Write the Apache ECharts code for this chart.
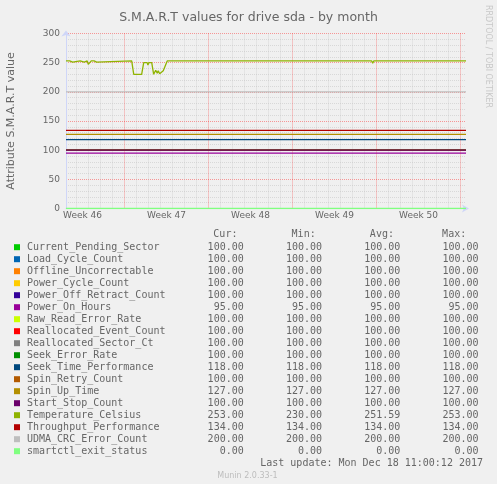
<!DOCTYPE html>
<html><head><meta charset="utf-8">
<script src="https://cdn.jsdelivr.net/npm/echarts@6/dist/echarts.min.js"></script>
<style>html,body{margin:0;padding:0;background:#f0f0f0;}#c{width:497px;height:484px;}</style>
</head><body><div id="c"></div>
<script>
const seriesNames = ['Current_Pending_Sector','Load_Cycle_Count','Offline_Uncorrectable','Power_Cycle_Count','Power_Off_Retract_Count','Power_On_Hours','Raw_Read_Error_Rate','Reallocated_Event_Count','Reallocated_Sector_Ct','Seek_Error_Rate','Seek_Time_Performance','Spin_Retry_Count','Spin_Up_Time','Start_Stop_Count','Temperature_Celsius','Throughput_Performance','UDMA_CRC_Error_Count','smartctl_exit_status'];
const curValues = [100,100,100,100,100,95,100,100,100,100,118,100,127,100,253,134,200,0];
const minValues = [100,100,100,100,100,95,100,100,100,100,118,100,127,100,230,134,200,0];
const avgValues = [100,100,100,100,100,95,100,100,100,100,118,100,127,100,251.59,134,200,0];
const maxValues = [100,100,100,100,100,95,100,100,100,100,118,100,127,100,253,134,200,0];
// time in days since Mon 13 Nov 2017 00:00
const flatDays = [2.125, 35.4583];
const tempDays = [2.125,2.43,2.52,2.68,2.77,3.31,3.39,3.64,3.72,3.89,3.98,4.1,4.23,4.47,4.56,4.68,4.77,7.6,7.77,8.43,8.6,8.89,8.95,9.03,9.27,9.43,9.6,9.73,9.81,9.93,10.06,10.23,10.56,25.14,25.2,25.27,27.6,27.68,27.77,30.77,30.83,30.89,35.4583];
const tempValues = [253,253,251,251,253,253,251,251,253,253,247,250,253,253,251,251,253,253,230,230,250,250,246,250,250,230,237,232,236,231,234,236,253,253,252,253,253,249,253,253,252,253,253];
const weekLabels = ['Week 46','Week 47','Week 48','Week 49','Week 50'];
const weekLabelDays = [3.5,10.5,17.5,24.5,31.5];
const weekStartDays = [7,14,21,28,35];
const lastUpdate = 'Last update: Mon Dec 18 11:00:12 2017';

const palette = ['#00CC00','#0066B3','#FF8000','#FFCC00','#330099','#990099','#CCFF00','#FF0000','#808080','#008F00','#00487D','#B35A00','#B38F00','#6B006B','#8FB300','#B30000','#BEBEBE','#80FF80'];
const X_MIN = 2.125, X_MAX = 35.4583;
const dayLines = [];
for (let d = Math.ceil(X_MIN); d <= Math.floor(X_MAX); d++) if (d % 7 !== 0) dayLines.push(d);

const fmt = v => v.toFixed(2);
const series = seriesNames.map((name, i) => {
  let data;
  if (name === 'Temperature_Celsius') data = tempDays.map((d, k) => [d, tempValues[k]]);
  else data = flatDays.map(d => [d, curValues[i]]);
  return {
    name, type: 'line', data, showSymbol: false, symbol: 'none',
    xAxisIndex: 0, yAxisIndex: 0,
    lineStyle: { color: palette[i], width: 1.3 },
    itemStyle: { color: palette[i] },
    animation: false, silent: true
  };
});

const mono = 'DejaVu Sans Mono';
const sans = 'DejaVu Sans';
const header = ' '.repeat(31) + 'Cur:' + ' '.repeat(9) + 'Min:' + ' '.repeat(9) + 'Avg:' + ' '.repeat(8) + 'Max:';

const chart = echarts.init(document.getElementById('c'), null, { renderer: 'canvas' });
chart.setOption({
  backgroundColor: '#f0f0f0',
  animation: false,
  title: {
    text: 'S.M.A.R.T values for drive sda - by month', left: 'center', top: 6,
    textStyle: { fontFamily: sans, fontSize: 12.5, fontWeight: 'normal', color: '#666' }
  },
  grid: { left: 66, right: 31, top: 33.5, bottom: 275.5, containLabel: false, outerBoundsMode: 'none' },
  xAxis: [{
    type: 'value', min: X_MIN, max: X_MAX,
    axisLine: { show: true, onZero: false, lineStyle: { color: '#CFD6F8', width: 1 }, symbol: ['none', 'arrow'], symbolSize: [6, 7], symbolOffset: [0, 3] },
    axisTick: { show: false, customValues: dayLines },
    axisLabel: { customValues: weekLabelDays, formatter: v => weekLabels[weekLabelDays.indexOf(v)] || '', fontFamily: sans, fontSize: 9, color: '#666', margin: 3 },
    splitLine: { show: true, lineStyle: { color: 'rgba(192,192,192,0.5)', type: [1, 1], width: 1 } }
  }, {
    type: 'value', min: X_MIN, max: X_MAX, position: 'bottom',
    axisLine: { show: false }, axisLabel: { show: false },
    axisTick: { show: false, customValues: weekStartDays },
    splitLine: { show: true, lineStyle: { color: 'rgba(255,0,0,0.38)', type: [1, 1], width: 1 } }
  }],
  yAxis: {
    type: 'value', min: 0, max: 300, interval: 50,
    name: 'Attribute S.M.A.R.T value', nameLocation: 'middle', nameGap: 49,
    nameTextStyle: { fontFamily: sans, fontSize: 11, color: '#666' },
    axisLine: { show: true, lineStyle: { color: '#CFD6F8', width: 1 }, symbol: ['none', 'arrow'], symbolSize: [7, 6], symbolOffset: [0, 3] },
    axisTick: { show: false },
    axisLabel: { fontFamily: sans, fontSize: 9, color: '#666', margin: 6 },
    splitLine: { show: true, lineStyle: { color: 'rgba(255,0,0,0.38)', type: [1, 1], width: 1 } },
    minorTick: { show: false, splitNumber: 5 },
    minorSplitLine: { show: true, lineStyle: { color: 'rgba(192,192,192,0.5)', type: [1, 1], width: 1 } }
  },
  legend: {
    orient: 'vertical', left: 14, top: 241.2, itemGap: 0, itemWidth: 6, itemHeight: 6, padding: 0,
    icon: 'rect', selectedMode: false, data: seriesNames,
    itemStyle: { borderWidth: 0 },
    textStyle: { fontFamily: mono, fontSize: 10, lineHeight: 12, color: '#666', padding: [0, 0, 0, 2] },
    formatter: name => {
      const i = seriesNames.indexOf(name);
      return name.padEnd(26) + fmt(curValues[i]).padStart(10) + fmt(minValues[i]).padStart(13) + fmt(avgValues[i]).padStart(13) + fmt(maxValues[i]).padStart(13);
    }
  },
  graphic: [
    { type: 'text', x: 26.7, y: 234, silent: true, style: { text: header, font: '10px "' + mono + '"', fill: '#666', align: 'left', verticalAlign: 'middle' } },
    { type: 'text', x: 483, y: 463, silent: true, style: { text: lastUpdate, font: '10px "' + mono + '"', fill: '#666', align: 'right', verticalAlign: 'middle' } },
    { type: 'text', x: 247.5, y: 475.5, silent: true, style: { text: 'Munin 2.0.33-1', font: '8px "' + sans + '"', fill: '#bdbdbd', align: 'center', verticalAlign: 'middle' } },
    { type: 'text', x: 488, y: 5, rotation: -Math.PI / 2, silent: true, style: { text: 'RRDTOOL / TOBI OETIKER', font: '8px "' + sans + '"', fill: '#c8c8c8', align: 'left', verticalAlign: 'middle' } }
  ],
  series
});
</script></body></html>
